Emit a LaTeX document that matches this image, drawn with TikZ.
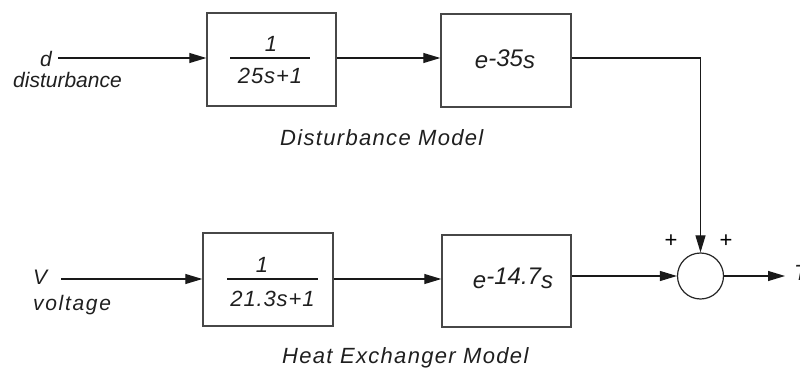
\documentclass[tikz,border=0pt]{standalone}
\usepackage{fontspec}
\setmainfont{Liberation Sans}
\newfontfamily\fplain{Liberation Sans}
\newfontfamily\fwide{Liberation Sans}[LetterSpace=6]
\newfontfamily\fmid{Liberation Sans}[LetterSpace=4]
\newfontfamily\fvolt{Liberation Sans}[LetterSpace=8]
\usetikzlibrary{arrows.meta}
\begin{document}
\begin{tikzpicture}[x=1pt,y=-1pt,
  blk/.style={draw=black!72,line width=1.4pt,minimum width=129pt,minimum height=93pt,inner sep=0pt},
  sig/.style={draw=black!90,line width=1.1pt},
  arr/.style={sig,-{Triangle[length=17pt,width=10pt]}},
  small/.style={font=\fplain\itshape\fontsize{21}{24}\selectfont,inner sep=0pt,text=black!88},
  smallw/.style={font=\fvolt\itshape\fontsize{21}{24}\selectfont,inner sep=0pt,text=black!88},
  title/.style={font=\fwide\itshape\fontsize{22}{26}\selectfont,inner sep=0pt,text=black!88},
  num/.style={font=\fmid\itshape\fontsize{22}{26}\selectfont,inner sep=0pt,text=black!88},
  expo/.style={font=\fplain\itshape\fontsize{24}{28}\selectfont,inner sep=0pt,text=black!88},
  plus/.style={font=\fplain\fontsize{22}{26}\selectfont,inner sep=0pt,text=black}
]
\useasboundingbox (0,0) rectangle (800,369);

% blocks
\node[blk] (b1) at (271.5,59.5) {};
\node[blk,minimum width=130pt] (b2) at (506,60.5) {};
\node[blk,minimum width=130pt] (b3) at (268,279.5) {};
\node[blk,minimum height=92pt] (b4) at (506.5,281) {};
\node[circle,draw=black!85,line width=1.2pt,minimum size=46pt,inner sep=0pt] (sum) at (700.5,276) {};

% block contents
\node[num,anchor=base] (n1) at (271,52) {1};
\node[num,anchor=base] (d1) at (270,83) {25s+1};
\draw[sig] (230,58) -- (310,58);
\node[expo,anchor=base] (e1) at (505,68) {e\raisebox{1.5pt}{-35}s};

\node[num,anchor=base] (n3) at (262,272.5) {1};
\node[num,anchor=base] (d3) at (272.5,306) {21.3s+1};
\draw[sig] (227,279) -- (318,279);
\node[expo,anchor=base] (e4) at (513,288) {e\raisebox{4pt}{-14.7}s};

% input labels
\node[small,anchor=base west] (dl) at (40,66.7) {d};
\node[small,anchor=base west] (dist) at (13,88) {disturbance};
\node[small,anchor=base west] (vl) at (33,284) {V};
\node[smallw,anchor=base west] (volt) at (33,310) {voltage};

% model titles
\node[title,anchor=base west] (tdm) at (280,145) {Disturbance Model};
\node[title,anchor=base west] (thm) at (282,363) {Heat Exchanger Model};

% signs and output
\node[plus] (p1) at (671,241) {+};
\node[plus] (p2) at (726,241) {+};
\node[small,anchor=base west,font=\fplain\itshape\fontsize{22}{26}\selectfont] (tl) at (794,280) {T};

% connectors
\coordinate (din) at (58,58);
\coordinate (vin) at (61,279);
\coordinate (tout) at (785,276);
\draw[arr] (din) -- (din -| b1.west);
\draw[arr] (b1.east |- din) -- (b2.west |- din);
\draw[arr] (b2.east |- din) -| (sum.north);
\draw[arr] (vin) -- (vin -| b3.west);
\draw[arr] (b3.east |- vin) -- (b4.west |- vin);
\draw[arr] (b4.east |- sum) -- (sum.west);
\draw[arr] (sum.east) -- (tout);
\end{tikzpicture}
\end{document}
